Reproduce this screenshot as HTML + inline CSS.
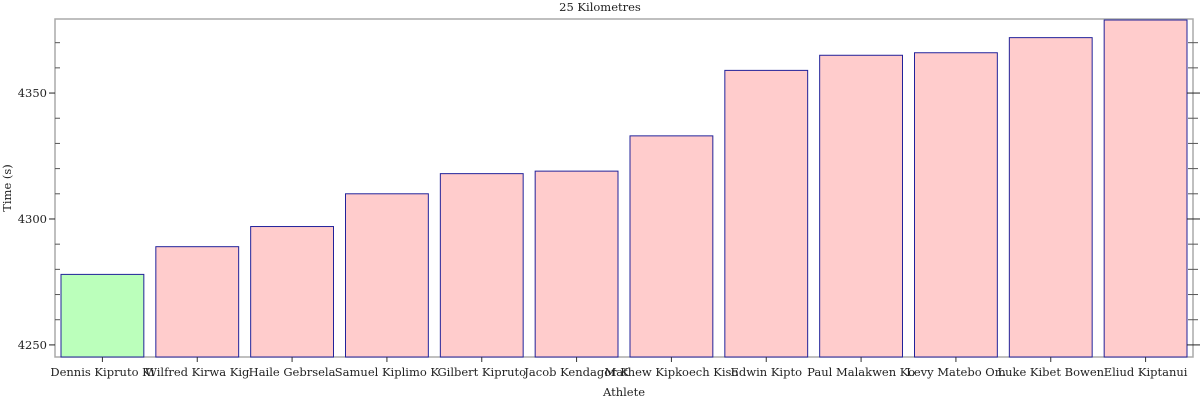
<!DOCTYPE html>
<html><head><meta charset="utf-8"><style>
body{margin:0;background:#fff;}
svg text{font-family:"DejaVu Serif","Liberation Serif",serif;fill:#222;}
</style></head><body>
<svg id="chart" width="1200" height="400"></svg>
<script>
const athletes=["Dennis Kipruto Kimetto","Wilfred Kirwa Kigen","Haile Gebrselassie","Samuel Kiplimo Kosgei","Gilbert Kiprotich","Jacob Kendagor","Mathew Kipkoech Kisorio","Edwin Kipyego","Paul Malakwen Kosgei","Levy Matebo Omari","Luke Kibet Bowen","Eliud Kiptanui"];
const shownLabels=["Dennis Kipruto Ki","Wilfred Kirwa Kig","Haile Gebrsela","Samuel Kiplimo K","Gilbert Kipruto","Jacob Kendagor K","Mathew Kipkoech Kiso","Edwin Kipto","Paul Malakwen Ko","Levy Matebo Om","Luke Kibet Bowen","Eliud Kiptanui"];
const times=[4278,4289,4297,4310,4318,4319,4333,4359,4365,4366,4372,4379];
const yTicks=[4250,4300,4350];
const NS="http://www.w3.org/2000/svg";
const svg=document.getElementById("chart");
const L=55,R=1193,T=19,B=357,yMin=4245.2,yMax=4379.4;
const y=v=>B-(v-yMin)/(yMax-yMin)*(B-T);
const band=(R-L)/athletes.length;
const x=i=>L+i*band;
function mk(tag,attrs,parent){const e=document.createElementNS(NS,tag);for(const k in attrs)e.setAttribute(k,attrs[k]);(parent||svg).appendChild(e);return e;}
// frame
const frame=mk("rect",{x:L,y:T,width:R-L,height:B-T,fill:"none",stroke:"#aaa","stroke-width":1.5});


// bars
times.forEach((v,i)=>{
  const r=mk("rect",{x:x(i)+6,y:y(v),width:band-12,height:B-y(v),fill:i===0?"#bbffbb":"#ffcccc",stroke:"#22229a","stroke-width":1});
  
  
  const tk=mk("line",{x1:x(i)+band/2,x2:x(i)+band/2,y1:B,y2:B+5,stroke:"#333"});
  
  
  const t=mk("text",{x:x(i)+band/2,y:B+19,"text-anchor":"middle","font-size":11.5});
  t.textContent=shownLabels[i];
  
  
});
// minor ticks
for(let v=4250;v<=4379;v+=10){
  if(v%50===0)continue;
  const yy=y(v);
  const a=mk("line",{x1:L,x2:L+5,y1:yy,y2:yy,stroke:"#555"});
  
  
  const b=mk("line",{x1:R-5,x2:R+5,y1:yy,y2:yy,stroke:"#555"});
  
  
}
yTicks.forEach(v=>{
  const yy=y(v);
  const a=mk("line",{x1:L-6,x2:L,y1:yy,y2:yy,stroke:"#222"});
  
  
  const b=mk("line",{x1:R-6,x2:R+7,y1:yy,y2:yy,stroke:"#222"});
  
  
  const t=mk("text",{x:L-8,y:yy+4,"text-anchor":"end","font-size":11.5});
  t.textContent=v;
  
  
});
const title=mk("text",{x:600,y:11,"text-anchor":"middle","font-size":11.5});
title.textContent="25 Kilometres";


const xt=mk("text",{x:624,y:396,"text-anchor":"middle","font-size":11.5});
xt.textContent="Athlete";


const yt=mk("text",{x:0,y:0,"text-anchor":"middle","font-size":11.5,transform:"translate(11,188) rotate(-90)"});
yt.textContent="Time (s)";


</script>
</body></html>
